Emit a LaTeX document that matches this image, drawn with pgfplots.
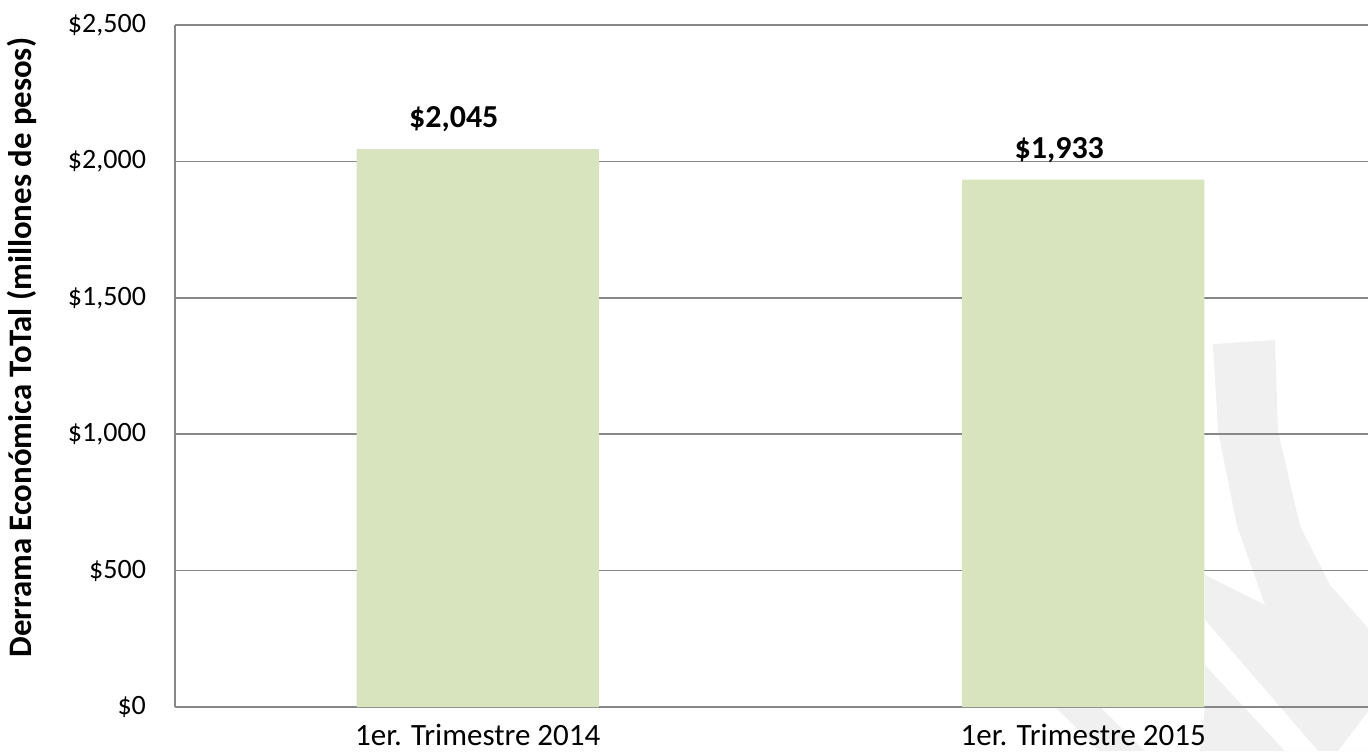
\documentclass[border=0pt]{standalone}
\usepackage{pgfplots}
\pgfplotsset{compat=1.18}
\usepackage{fontspec}
\setmainfont{Carlito}
\definecolor{barg}{HTML}{D7E4BD}
\definecolor{gridg}{HTML}{878787}
\definecolor{wm}{HTML}{F0F0F0}
\begin{document}
\begin{tikzpicture}
\useasboundingbox (-87.5pt,-22pt) rectangle (596.5pt,353.5pt);
% faint watermark (background decoration), pixel coordinates
\begin{scope}[x=0.5pt,y=-0.5pt,shift={(-87.5pt,353.5pt)}]
  \fill[wm] (1205,575) -- (1265,605) -- (1295,655) -- (1368,700) -- (1368,751) -- (1200,751) -- (1205,707) -- cycle;
  \fill[wm] (1055,707) -- (1100,707) -- (1145,751) -- (1100,751) -- cycle;
  \fill[wm] (1213,344) -- (1275,340) -- (1278,431) -- (1300,526) -- (1330,585) -- (1368,628)
     -- (1368,700) -- (1330,690) -- (1295,655) -- (1265,605) -- (1237,526) -- (1218,431) -- cycle;
  \fill[white] (1205,620) -- (1318,751) -- (1285,751) -- (1205,665) -- cycle;
  \fill[white] (1338,751) -- (1368,712) -- (1368,751) -- cycle;
\end{scope}
\begin{axis}[
  at={(0,0)}, anchor=south west,
  scale only axis, width=596.5pt, height=341pt,
  xmin=-0.5, xmax=1.4703, ymin=0, ymax=2500,
  axis lines*=left,
  axis line style={gridg, line width=0.75pt},
  ymajorgrids, major grid style={gridg, line width=0.75pt},
  major tick length=0pt,
  ytick={0,500,1000,1500,2000,2500},
  yticklabels={\$0,\$500,{\$1,000},{\$1,500},{\$2,000},{\$2,500}},
  xtick={0,1},
  xticklabels={1er. Trimestre 2014,1er. Trimestre 2015},
  yticklabel style={font=\fontsize{14}{16}\selectfont, text=black, xshift=-11pt},
  xticklabel style={font=\fontsize{15.5}{17}\selectfont, text=black, yshift=-5pt},
  ylabel={Derrama Económica ToTal (millones de pesos)},
  ylabel style={font=\bfseries\fontsize{16.4}{19}\selectfont, at={(axis description cs:-0.128,0.527)}, anchor=center},
]
\addplot[ybar, bar width=121pt, fill=barg, draw=none,
  nodes near coords, point meta=explicit symbolic,
  nodes near coords style={font=\bfseries\fontsize{16}{18}\selectfont, text=black, yshift=5pt, xshift=-12pt}]
  coordinates {(0,2045) [\$2,045] (1,1933) [\$1,933]};
\end{axis}
\end{tikzpicture}
\end{document}
